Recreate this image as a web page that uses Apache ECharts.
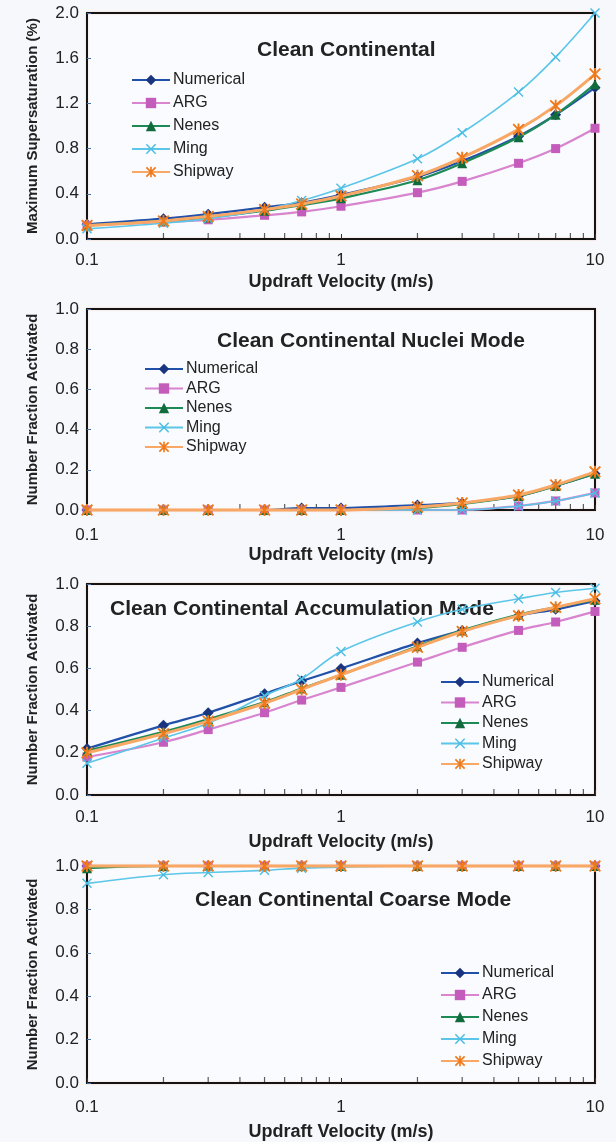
<!DOCTYPE html>
<html>
<head>
<meta charset="utf-8">
<script src="https://cdn.jsdelivr.net/npm/echarts@6/dist/echarts.min.js"></script>
<style>
  html, body { margin: 0; padding: 0; background: #f7f8fc; }
  #chart { width: 616px; height: 1142px; }
</style>
</head>
<body>
<div id="chart"></div>
<script>
// Updraft velocities (m/s) shared by every panel
const velocity = [0.1, 0.2, 0.3, 0.5, 0.7, 1, 2, 3, 5, 7, 10];
const schemeNames = ['Numerical', 'ARG', 'Nenes', 'Ming', 'Shipway'];
const minorTickValues = [0.2, 0.3, 0.4, 0.5, 0.6, 0.7, 0.8, 0.9, 2, 3, 4, 5, 6, 7, 8, 9];

// Panel 1: maximum supersaturation (%)
const supNumerical = [0.13, 0.18, 0.22, 0.28, 0.32, 0.39, 0.55, 0.69, 0.91, 1.10, 1.34];
const supARG       = [0.12, 0.15, 0.17, 0.21, 0.24, 0.29, 0.41, 0.51, 0.67, 0.80, 0.98];
const supNenes     = [0.12, 0.16, 0.19, 0.25, 0.30, 0.36, 0.52, 0.67, 0.90, 1.10, 1.37];
const supMing      = [0.09, 0.14, 0.18, 0.26, 0.34, 0.45, 0.71, 0.94, 1.30, 1.61, 2.00];
const supShipway   = [0.12, 0.16, 0.20, 0.26, 0.31, 0.38, 0.56, 0.72, 0.97, 1.18, 1.46];

// Panel 2: nuclei mode activated fraction
const nucNumerical = [0.00, 0.00, 0.00, 0.00, 0.01, 0.01, 0.025, 0.035, 0.07, 0.12, 0.18];
const nucARG       = [0.00, 0.00, 0.00, 0.00, 0.00, 0.00, 0.00, 0.00, 0.02, 0.045, 0.085];
const nucNenes     = [0.00, 0.00, 0.00, 0.00, 0.00, 0.00, 0.01, 0.03, 0.07, 0.12, 0.18];
const nucMing      = [0.00, 0.00, 0.00, 0.00, 0.00, 0.00, 0.00, 0.00, 0.02, 0.045, 0.085];
const nucShipway   = [0.00, 0.00, 0.00, 0.00, 0.00, 0.00, 0.015, 0.035, 0.075, 0.125, 0.19];

// Panel 3: accumulation mode activated fraction
const accNumerical = [0.22, 0.33, 0.39, 0.48, 0.54, 0.60, 0.72, 0.78, 0.85, 0.88, 0.92];
const accARG       = [0.18, 0.25, 0.31, 0.39, 0.45, 0.51, 0.63, 0.70, 0.78, 0.82, 0.87];
const accNenes     = [0.21, 0.30, 0.36, 0.44, 0.505, 0.57, 0.705, 0.78, 0.855, 0.89, 0.925];
const accMing      = [0.15, 0.27, 0.34, 0.47, 0.55, 0.68, 0.82, 0.88, 0.93, 0.96, 0.98];
const accShipway   = [0.20, 0.29, 0.35, 0.435, 0.50, 0.57, 0.70, 0.775, 0.85, 0.89, 0.93];

// Panel 4: coarse mode activated fraction
const corNumerical = [1.00, 1.00, 1.00, 1.00, 1.00, 1.00, 1.00, 1.00, 1.00, 1.00, 1.00];
const corARG       = [1.00, 1.00, 1.00, 1.00, 1.00, 1.00, 1.00, 1.00, 1.00, 1.00, 1.00];
const corNenes     = [0.99, 1.00, 1.00, 1.00, 1.00, 1.00, 1.00, 1.00, 1.00, 1.00, 1.00];
const corMing      = [0.92, 0.96, 0.97, 0.98, 0.99, 0.995, 1.00, 1.00, 1.00, 1.00, 1.00];
const corShipway   = [1.00, 1.00, 1.00, 1.00, 1.00, 1.00, 1.00, 1.00, 1.00, 1.00, 1.00];

const panelTitles = [
  'Clean Continental',
  'Clean Continental Nuclei Mode',
  'Clean Continental Accumulation Mode',
  'Clean Continental Coarse Mode'
];
const yAxisNames = [
  'Maximum Supersaturation (%)',
  'Number Fraction Activated',
  'Number Fraction Activated',
  'Number Fraction Activated'
];
const panelData = [
  [supNumerical, supARG, supNenes, supMing, supShipway],
  [nucNumerical, nucARG, nucNenes, nucMing, nucShipway],
  [accNumerical, accARG, accNenes, accMing, accShipway],
  [corNumerical, corARG, corNenes, corMing, corShipway]
];
const yMax = [2.0, 1.0, 1.0, 1.0];
const yStep = [0.4, 0.2, 0.2, 0.2];

// layout of the four stacked panels
const gridTop = [13, 309, 584, 866];
const gridHeight = [226, 201, 211, 217];
const labelMargin = [13, 17, 14, 16];
const nameGapX = [34, 36, 38, 40];
const titlePos = [[252, 35], [212, 326], [105, 594], [190, 885]];
const legendPos = [[131, 72, 7], [144, 361, 3.5], [440, 674, 4.5], [440, 965, 6]];

const FONT = '"Liberation Sans", Arial, sans-serif';

const xMark = 'path://M0,1 L1,0 L5,4 L9,0 L10,1 L6,5 L10,9 L9,10 L5,6 L1,10 L0,9 L4,5 Z';
const starMark = 'path://M4.2,0 L5.8,0 L5.8,10 L4.2,10 Z M0,1.1 L1.1,0 L10,8.9 L8.9,10 Z M8.9,0 L10,1.1 L1.1,10 L0,8.9 Z';

const schemeStyle = [
  { symbol: 'diamond', size: 11, line: '#2150a8', mark: '#1a3580', width: 2.2 },
  { symbol: 'rect', size: 9, line: '#d884cf', mark: '#c45cbb', width: 2.2 },
  { symbol: 'triangle', size: 10, line: '#1d8a55', mark: '#126b3c', width: 2.2 },
  { symbol: xMark, size: 10, line: '#5cc6e8', mark: '#4bbde3', width: 1.6 },
  { symbol: starMark, size: 12, line: '#f8a765', mark: '#ef7a1c', width: 3 }
];

const grids = [], xAxes = [], yAxes = [], series = [], titles = [], legends = [];

for (let p = 0; p < 4; p++) {
  grids.push({
    left: 87, width: 508, top: gridTop[p], height: gridHeight[p],
    show: true, borderColor: '#141414', borderWidth: 2,
    backgroundColor: '#fafbfe',
    shadowColor: 'rgba(240,150,120,0.45)', shadowBlur: 2
  });
  xAxes.push({
    type: 'log', logBase: 10, min: 0.1, max: 10, gridIndex: p,
    name: 'Updraft Velocity (m/s)', nameLocation: 'middle', nameGap: nameGapX[p],
    nameTextStyle: { fontFamily: FONT, fontSize: 18, fontWeight: 'bold', color: '#222' },
    axisLine: { show: true, lineStyle: { color: '#141414', width: 2 } },
    axisTick: { show: true, inside: true, length: 5, lineStyle: { color: '#333', width: 1 } },
    axisLabel: { fontFamily: FONT, fontSize: 17, color: '#222', margin: labelMargin[p],
      formatter: v => String(v) },
    splitLine: { show: false }
  });
  yAxes.push({
    type: 'value', min: 0, max: yMax[p], interval: yStep[p], gridIndex: p,
    name: yAxisNames[p], nameLocation: 'middle', nameGap: 47,
    nameTextStyle: { fontFamily: FONT, fontSize: 15, fontWeight: 'bold', color: '#222' },
    axisLine: { show: true, lineStyle: { color: '#141414', width: 2 } },
    axisTick: { show: true, inside: true, length: 4, lineStyle: { color: '#3f72b5', width: 1 } },
    axisLabel: { fontFamily: FONT, fontSize: 17, color: '#222', margin: 8,
      formatter: v => v.toFixed(1) },
    splitLine: { show: false }
  });
  titles.push({
    text: panelTitles[p], left: titlePos[p][0], top: titlePos[p][1],
    textStyle: { fontFamily: FONT, fontSize: 21, fontWeight: 'bold', color: '#222' }
  });
  legends.push({
    data: schemeNames, orient: 'vertical',
    left: legendPos[p][0], top: legendPos[p][1], itemGap: legendPos[p][2],
    itemWidth: 38, itemHeight: 13, padding: 0, selectedMode: false,
    textStyle: { fontFamily: FONT, fontSize: 16, lineHeight: 16, color: '#222', padding: [0, 0, 0, -2] }
  });

  // minor ticks of the log axis, placed on the bottom edge through the axis scale
  series.push({
    type: 'scatter', xAxisIndex: p, yAxisIndex: p, silent: true, clip: false,
    data: minorTickValues.map(v => [v, 0]),
    symbol: 'rect', symbolSize: [1.2, 5], symbolOffset: [0, -3.5],
    itemStyle: { color: '#333' }, z: 1
  });

  schemeNames.forEach((name, s) => {
    const st = schemeStyle[s];
    series.push({
      name: name, type: 'line', xAxisIndex: p, yAxisIndex: p,
      data: velocity.map((v, i) => [v, panelData[p][s][i]]),
      smooth: 0.35, clip: false,
      symbol: st.symbol, symbolSize: st.size, showSymbol: true,
      lineStyle: { color: st.line, width: st.width },
      itemStyle: { color: st.mark },
      z: 3 + s, animation: false
    });
  });
}

const chart = echarts.init(document.getElementById('chart'), null, { renderer: 'canvas' });
chart.setOption({
  backgroundColor: '#f7f8fc',
  animation: false,
  title: titles,
  legend: legends,
  grid: grids,
  xAxis: xAxes,
  yAxis: yAxes,
  series: series
});
</script>
</body>
</html>
